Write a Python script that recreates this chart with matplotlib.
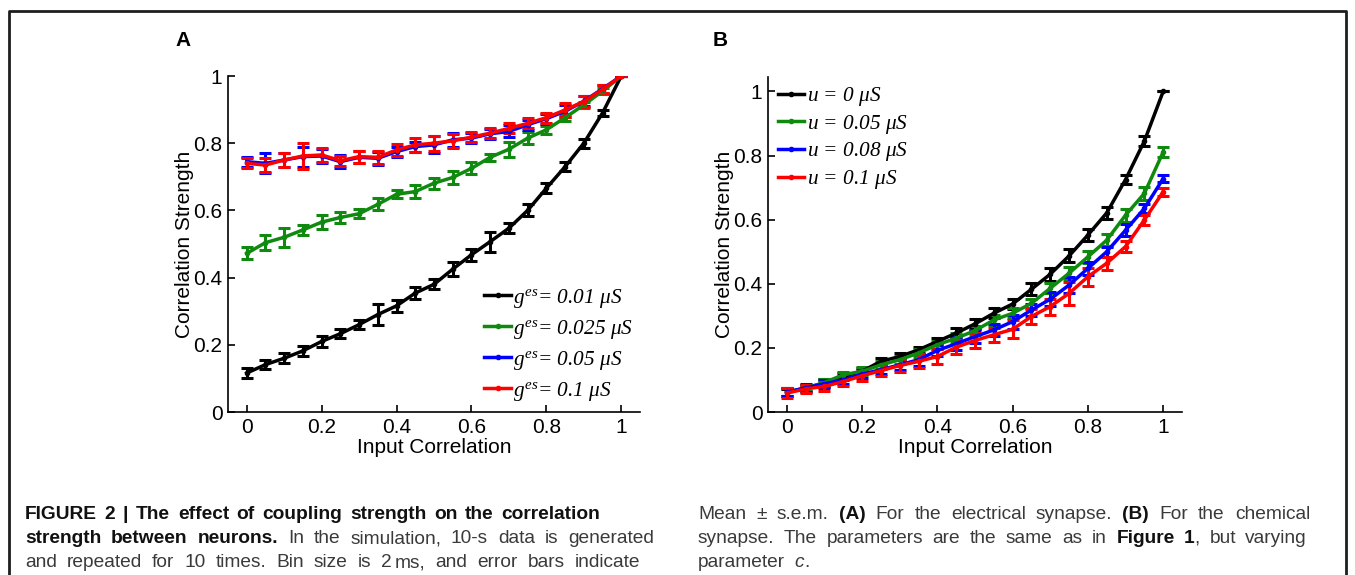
import numpy as np
import matplotlib
matplotlib.use('Agg')
import matplotlib.pyplot as plt
from matplotlib.lines import Line2D

plt.rcParams['font.family'] = ['Liberation Sans', 'DejaVu Sans']
plt.rcParams['mathtext.fontset'] = 'custom'
plt.rcParams['mathtext.rm'] = 'Liberation Serif:italic'
plt.rcParams['mathtext.it'] = 'Liberation Serif:italic'

# input correlation values, shared by both panels
x_vals = [0.0, 0.05, 0.1, 0.15, 0.2, 0.25, 0.3, 0.35, 0.4, 0.45, 0.5,
          0.55, 0.6, 0.65, 0.7, 0.75, 0.8, 0.85, 0.9, 0.95, 1.0]

# panel A: electrical synapse
labels_a = [r'$g^{es}$= 0.01 $\mu S$', r'$g^{es}$= 0.025 $\mu S$',
            r'$g^{es}$= 0.05 $\mu S$', r'$g^{es}$= 0.1 $\mu S$']
a_001 = [0.116, 0.141, 0.160, 0.182, 0.210, 0.233, 0.260, 0.290, 0.316, 0.354, 0.380,
         0.425, 0.468, 0.507, 0.547, 0.600, 0.666, 0.730, 0.800, 0.890, 1.0]
a_001_err = [0.015, 0.013, 0.015, 0.015, 0.016, 0.013, 0.014, 0.030, 0.018, 0.017, 0.015,
             0.020, 0.018, 0.030, 0.015, 0.018, 0.015, 0.013, 0.013, 0.010, 0.0]
a_0025 = [0.472, 0.504, 0.520, 0.542, 0.565, 0.579, 0.590, 0.618, 0.648, 0.656, 0.681,
          0.698, 0.725, 0.758, 0.782, 0.815, 0.840, 0.876, 0.914, 0.955, 1.0]
a_0025_err = [0.018, 0.022, 0.028, 0.014, 0.020, 0.016, 0.014, 0.018, 0.012, 0.020, 0.016,
              0.020, 0.018, 0.010, 0.022, 0.018, 0.012, 0.010, 0.010, 0.010, 0.0]
a_005 = [0.745, 0.740, 0.750, 0.760, 0.762, 0.745, 0.758, 0.755, 0.775, 0.790, 0.795,
         0.810, 0.815, 0.828, 0.835, 0.855, 0.873, 0.895, 0.925, 0.962, 1.0]
a_005_err = [0.015, 0.030, 0.020, 0.030, 0.020, 0.020, 0.018, 0.020, 0.015, 0.015, 0.025,
             0.020, 0.015, 0.015, 0.018, 0.015, 0.015, 0.018, 0.015, 0.012, 0.0]
a_01 = [0.740, 0.735, 0.750, 0.762, 0.765, 0.748, 0.760, 0.758, 0.780, 0.795, 0.800,
        0.807, 0.818, 0.830, 0.844, 0.859, 0.876, 0.899, 0.924, 0.960, 1.0]
a_01_err = [0.015, 0.022, 0.020, 0.040, 0.020, 0.015, 0.018, 0.020, 0.018, 0.020, 0.022,
            0.020, 0.015, 0.015, 0.015, 0.015, 0.015, 0.022, 0.015, 0.012, 0.0]

# panel B: chemical synapse
labels_b = [r'$u$ = 0 $\mu S$', r'$u$ = 0.05 $\mu S$',
            r'$u$ = 0.08 $\mu S$', r'$u$ = 0.1 $\mu S$']
b_0 = [0.061, 0.075, 0.090, 0.111, 0.127, 0.158, 0.173, 0.194, 0.220, 0.246, 0.275,
       0.308, 0.337, 0.383, 0.430, 0.487, 0.552, 0.621, 0.725, 0.845, 1.0]
b_0_err = [0.010, 0.010, 0.012, 0.010, 0.010, 0.012, 0.010, 0.010, 0.012, 0.015, 0.015,
           0.015, 0.015, 0.018, 0.020, 0.020, 0.020, 0.020, 0.015, 0.015, 0.0]
b_005 = [0.062, 0.075, 0.092, 0.116, 0.127, 0.147, 0.163, 0.184, 0.210, 0.230, 0.254,
         0.287, 0.308, 0.339, 0.386, 0.433, 0.484, 0.536, 0.614, 0.682, 0.811]
b_005_err = [0.012, 0.010, 0.012, 0.010, 0.012, 0.012, 0.012, 0.012, 0.012, 0.015, 0.015,
             0.015, 0.015, 0.015, 0.015, 0.018, 0.018, 0.018, 0.020, 0.020, 0.015]
b_008 = [0.062, 0.075, 0.088, 0.100, 0.118, 0.132, 0.147, 0.163, 0.192, 0.213, 0.235,
         0.256, 0.282, 0.318, 0.352, 0.396, 0.448, 0.500, 0.567, 0.635, 0.728]
b_008_err = [0.012, 0.012, 0.012, 0.012, 0.012, 0.015, 0.015, 0.018, 0.018, 0.020, 0.020,
             0.020, 0.022, 0.020, 0.022, 0.025, 0.020, 0.015, 0.018, 0.015, 0.012]
b_01 = [0.059, 0.072, 0.080, 0.095, 0.113, 0.129, 0.145, 0.158, 0.173, 0.202, 0.223,
        0.241, 0.258, 0.298, 0.329, 0.370, 0.422, 0.464, 0.516, 0.599, 0.687]
b_01_err = [0.015, 0.012, 0.015, 0.015, 0.015, 0.018, 0.020, 0.022, 0.022, 0.022, 0.022,
            0.022, 0.028, 0.022, 0.025, 0.035, 0.028, 0.020, 0.018, 0.015, 0.012]

colors = ['#000000', '#0f8a0f', '#0000ff', '#ff0000']

series_a = [(a_001, a_001_err), (a_0025, a_0025_err), (a_005, a_005_err), (a_01, a_01_err)]
series_b = [(b_0, b_0_err), (b_005, b_005_err), (b_008, b_008_err), (b_01, b_01_err)]

W, H = 1355, 575
fig = plt.figure(figsize=(W / 100, H / 100), dpi=100)


def px_box(left, top, right, bottom):
    return [left / W, 1 - bottom / H, (right - left) / W, (bottom - top) / H]


def draw_panel(ax, series, labels, ylim):
    handles = []
    for (y, e), c, lab in zip(series, colors, labels):
        eb = ax.errorbar(x_vals, y, yerr=e, color=c, lw=2.5, marker='.', ms=6,
                         capsize=4, capthick=2.2, elinewidth=2.2, label=lab)
        handles.append(eb[0])
    ax.set_xlim(-0.05, 1.05)
    ax.set_ylim(*ylim)
    ax.set_xticks([0, 0.2, 0.4, 0.6, 0.8, 1])
    ax.set_xticklabels(['0', '0.2', '0.4', '0.6', '0.8', '1'])
    ax.set_yticks([0, 0.2, 0.4, 0.6, 0.8, 1])
    ax.set_yticklabels(['0', '0.2', '0.4', '0.6', '0.8', '1'])
    ax.spines['top'].set_visible(False)
    ax.spines['right'].set_visible(False)
    for s in ['left', 'bottom']:
        ax.spines[s].set_linewidth(1.2)
    ax.tick_params(direction='in', length=5, width=1.2, labelsize=15, pad=4)
    ax.set_xlabel('Input Correlation', fontsize=15, labelpad=1)
    ax.set_ylabel('Correlation Strength', fontsize=15, labelpad=-0.5)
    return handles


leg_font = {'family': 'Liberation Serif', 'style': 'italic', 'size': 15.3}

ax_a = fig.add_axes(px_box(228, 76, 640, 412))
h_a = draw_panel(ax_a, series_a, labels_a, (0, 1))
ax_a.legend(h_a, labels_a, loc='center left', bbox_to_anchor=(0.622, 0.2),
            frameon=False, handlelength=1.25, handletextpad=0.1, labelspacing=0.38,
            borderpad=0, borderaxespad=0, prop=leg_font)

ax_b = fig.add_axes(px_box(768, 77, 1182, 412))
h_b = draw_panel(ax_b, series_b, labels_b, (0, 1.045))
ax_b.legend(h_b, labels_b, loc='upper left', bbox_to_anchor=(0.024, 0.976),
            frameon=False, handlelength=1.25, handletextpad=0.1, labelspacing=0.22,
            borderpad=0, borderaxespad=0, prop=leg_font)

fig.text(183 / W, 1 - 40 / H, 'A', fontsize=15, fontweight='bold', ha='center', va='center')
fig.text(720 / W, 1 - 40 / H, 'B', fontsize=15, fontweight='bold', ha='center', va='center')

# frame round the figure (open at the bottom)
fig.add_artist(Line2D([9 / W, 9 / W, 1346 / W, 1346 / W], [0, 1 - 11 / H, 1 - 11 / H, 0],
                      transform=fig.transFigure, color='#1e1e1e', lw=2))

# caption, justified word by word
cap_family = ['Liberation Sans Narrow', 'Liberation Sans', 'DejaVu Sans']
cap_size = 13.8
B, R, I = 'bold', 'normal', 'italic'
THIN = 3  # px, thin gap inside "2 ms"

caption_lines = [
    # (left, right or None, baseline, [(text, style), ...])
    (25, 600, 519, [('FIGURE 2 | The effect of coupling strength on the correlation', B)]),
    (25, 654, 543, [('strength between neurons.', B),
                    (' In the simulation, 10-s data is generated', R)]),
    (25, 640, 567, [('and repeated for 10 times. Bin size is 2ms, and error bars indicate', R)]),
    (698, 1310, 519, [('Mean \u00b1 s.e.m.', R), (' (A)', B), (' For the electrical synapse.', R),
                      (' (B)', B), (' For the chemical', R)]),
    (698, 1307, 543, [('synapse. The parameters are the same as in', R), (' Figure 1', B),
                      (', but varying', R)]),
    (698, None, 567, [('parameter ', R), (' c', I), ('.', R)]),
]

fig.canvas.draw()
renderer = fig.canvas.get_renderer()


def make_word(pieces, x, y):
    arts = []
    for txt, st in pieces:
        if txt == '':
            arts.append(None)
            continue
        kw = dict(fontsize=cap_size, family=cap_family, va='baseline', ha='left')
        if st == B:
            kw.update(fontweight='bold', color='#111111')
        elif st == I:
            kw.update(style='italic', color='#3a3a3a')
        else:
            kw.update(color='#3a3a3a')
        arts.append(fig.text(x / W, 1 - y / H, txt, **kw))
    return arts


def piece_width(a):
    if a is None:
        return THIN
    return a.get_window_extent(renderer).width


def place_word(arts, x, y):
    for a in arts:
        if a is not None:
            a.set_position((x / W, 1 - y / H))
        x += piece_width(a)
    return x


for left, right, base, segs in caption_lines:
    # split segments into words; a word may be glued from several styled pieces
    words = []
    for txt, st in segs:
        parts = txt.split(' ')
        for k, p in enumerate(parts):
            if k == 0 and p != '' and words and not txt.startswith(' '):
                words[-1].append((p, st))
            elif p != '':
                words.append([(p, st)])
    words = [[('2', R), ('', R), ('ms,', R)] if w == [('2ms,', R)] else w for w in words]
    arts = [make_word(w, left, base) for w in words]
    widths = [sum(piece_width(a) for a in w) for w in arts]
    if right is None:
        gap = 9
    else:
        gap = (right - left - sum(widths)) / (len(words) - 1)
    x = left
    for w, wd in zip(arts, widths):
        place_word(w, x, base)
        x += wd + gap

fig.savefig('out.png', dpi=100, facecolor='white')
